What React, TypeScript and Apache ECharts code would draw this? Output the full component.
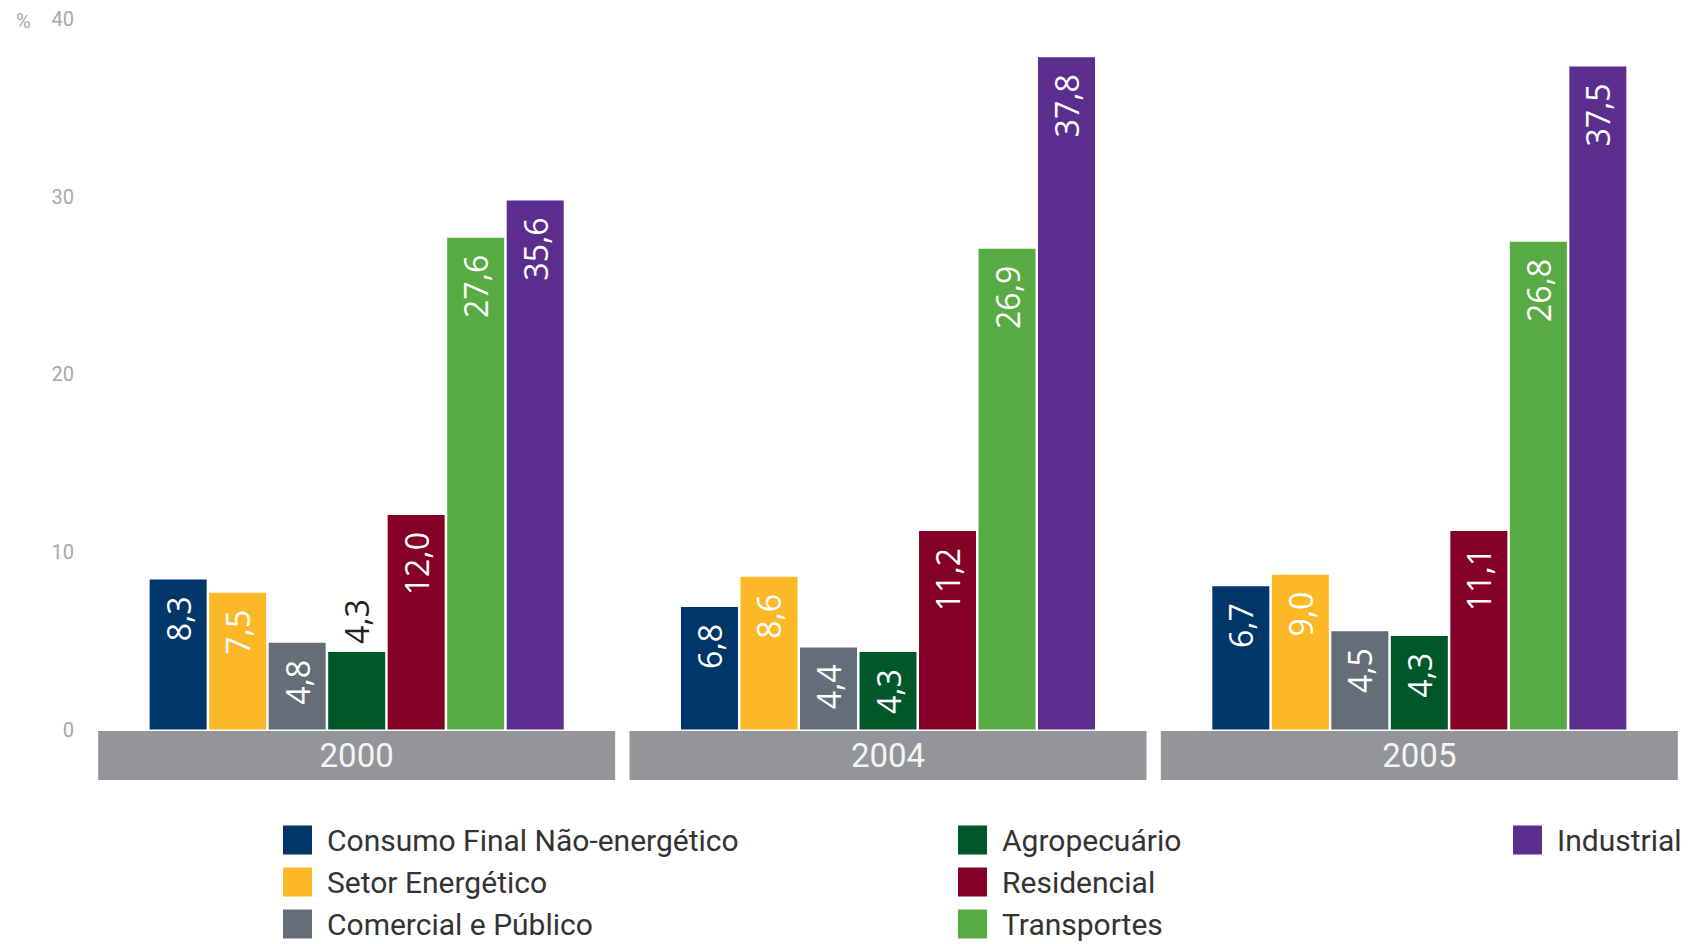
import React, { useEffect, useRef } from 'react';
import * as echarts from 'echarts';

// Categories
const years = ['2000', '2004', '2005'];

// Series (legend order)
const sectorNames = [
  'Consumo Final Não-energético',
  'Setor Energético',
  'Comercial e Público',
  'Agropecuário',
  'Residencial',
  'Transportes',
  'Industrial',
];
const sectorColors = ['#00366a', '#fdb827', '#636e78', '#00582a', '#840026', '#58ab42', '#5b2d8e'];

// Bar heights as drawn in the picture (%), per year 2000 / 2004 / 2005
const consumoFinal = [8.45, 6.9, 8.07];
const setorEnergetico = [7.7, 8.6, 8.72];
const comercialPublico = [4.88, 4.62, 5.54];
const agropecuario = [4.36, 4.36, 5.27];
const residencial = [12.08, 11.18, 11.18];
const transportes = [27.7, 27.08, 27.47];
const industrial = [29.8, 37.87, 37.35];

// Printed value labels
const consumoFinalLabels = ['8,3', '6,8', '6,7'];
const setorEnergeticoLabels = ['7,5', '8,6', '9,0'];
const comercialPublicoLabels = ['4,8', '4,4', '4,5'];
const agropecuarioLabels = ['4,3', '4,3', '4,3'];
const residencialLabels = ['12,0', '11,2', '11,1'];
const transportesLabels = ['27,6', '26,9', '26,8'];
const industrialLabels = ['35,6', '37,8', '37,5'];

// Y axis
const yMin = 0;
const yMax = 40;
const yStep = 10;

const barHeights = [consumoFinal, setorEnergetico, comercialPublico, agropecuario, residencial, transportes, industrial];
const labelTexts = [
  consumoFinalLabels,
  setorEnergeticoLabels,
  comercialPublicoLabels,
  agropecuarioLabels,
  residencialLabels,
  transportesLabels,
  industrialLabels,
];

export default function App() {
  const ref = useRef<HTMLDivElement>(null);

  useEffect(() => {
    document.body.style.margin = '0';
    const chart = echarts.init(ref.current!, null, { renderer: 'svg' });
    const narrow = "Roboto, 'Liberation Sans', sans-serif";
    const axisGrey = '#a7a9ac';

    const series = sectorNames.map((name, i) => ({
      name,
      type: 'bar',
      barWidth: 57,
      barGap: '4.4%',
      itemStyle: { color: sectorColors[i] },
      label: {
        show: true,
        rotate: 90,
        position: 'insideTop',
        align: 'right',
        verticalAlign: 'middle',
        distance: 17,
        color: '#ffffff',
        fontSize: 32,
        fontFamily: "'Open Sans', 'Noto Sans', sans-serif",
        formatter: (p: any) => labelTexts[i][p.dataIndex],
      },
      data: barHeights[i].map((v, j) => {
        const item: any = { value: v };
        // the short Agropecuário bar of 2000 carries its label above the bar, in dark text
        if (i === 3 && j === 0) {
          item.label = { position: 'top', align: 'left', verticalAlign: 'middle', distance: 8, color: '#231f20' };
        }
        return item;
      }),
    }));

    const legendCommon = {
      orient: 'vertical',
      icon: 'rect',
      itemWidth: 29,
      itemHeight: 29,
      itemGap: 12,
      padding: 0,
      height: 300,
      selectedMode: false,
      top: 825,
      textStyle: {
        fontSize: 30,
        fontFamily: narrow,
        color: '#333333',
        padding: [0, 0, 0, 10],
      },
    };

    chart.setOption({
      animation: false,
      backgroundColor: '#ffffff',
      title: {
        text: '%',
        left: 11,
        top: 6,
        textStyle: { fontSize: 20, fontWeight: 'normal', color: axisGrey, fontFamily: narrow },
      },
      grid: { left: 91, right: 5, top: 19.4, bottom: 214.5, containLabel: false },
      legend: [
        { ...legendCommon, left: 283, data: sectorNames.slice(0, 3) },
        { ...legendCommon, left: 958, data: sectorNames.slice(3, 6) },
        { ...legendCommon, left: 1513, data: sectorNames.slice(6) },
      ],
      xAxis: {
        type: 'category',
        data: years,
        axisLine: { show: false },
        axisTick: { show: false },
        axisLabel: {
          interval: 0,
          margin: 1.5,
          width: 517,
          height: 49,
          lineHeight: 49,
          align: 'center',
          verticalAlign: 'top',
          backgroundColor: '#939598',
          color: '#f4f4f4',
          fontSize: 33,
          fontFamily: narrow,
        },
      },
      yAxis: {
        type: 'value',
        min: yMin,
        max: yMax,
        interval: yStep,
        splitLine: { show: false },
        axisLine: { show: false },
        axisTick: { show: false },
        axisLabel: { color: axisGrey, fontSize: 20, fontFamily: narrow, margin: 17 },
      },
      series,
    });

    return () => chart.dispose();
  }, []);

  return <div ref={ref} style={{ position: 'absolute', left: 0, top: 0, width: 1690, height: 944 }} />;
}
